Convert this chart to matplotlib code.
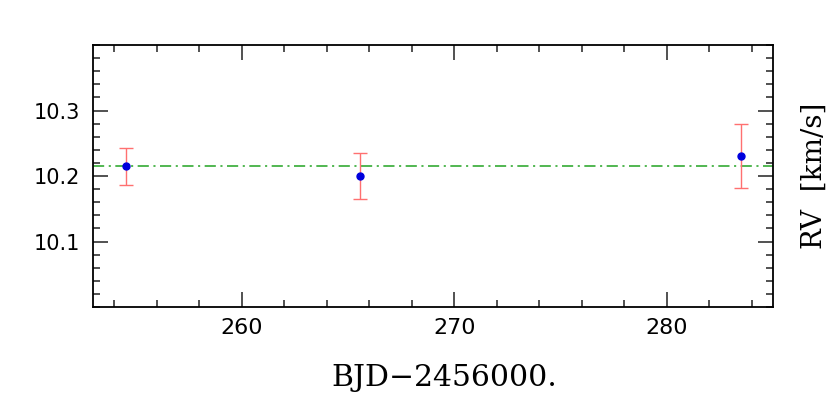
import matplotlib
matplotlib.use('Agg')
import matplotlib.pyplot as plt
from matplotlib.ticker import MultipleLocator

# RV measurements
bjd = [254.55, 265.55, 283.5]
rv = [10.215, 10.200, 10.231]
rv_err = [0.028, 0.035, 0.049]
rv_mean = 10.215

fig = plt.figure(figsize=(8.3, 4.11), dpi=100)
ax = fig.add_axes([93 / 830, 1 - 307 / 411, 680 / 830, 262 / 411])

ax.axhline(rv_mean, color='#33aa33', linestyle='-.', linewidth=1.2, dashes=(6.7, 2.75, 1.25, 2.7))
ax.errorbar(bjd, rv, yerr=rv_err, fmt='none', ecolor='#ff7070', elinewidth=1.0,
            capsize=5, capthick=1.0)
ax.plot(bjd, rv, 'o', color='#0000dd', markersize=5, zorder=5)

ax.set_xlim(253.0, 285.0)
ax.set_ylim(10.0, 10.4)
ax.xaxis.set_major_locator(MultipleLocator(10))
ax.xaxis.set_minor_locator(MultipleLocator(2))
ax.set_yticks([10.1, 10.2, 10.3])
ax.yaxis.set_minor_locator(MultipleLocator(0.02))

ax.tick_params(which='both', direction='in', top=True, right=True, width=1.2, color='#333333')
ax.tick_params(which='major', length=10.5, labelsize=15, pad=9)
ax.tick_params(axis='x', which='major', labelsize=16, pad=8)
ax.tick_params(which='minor', length=5)
for sp in ax.spines.values():
    sp.set_linewidth(1.3)

ax.set_xlabel('BJD\u22122456000.', family='DejaVu Serif', fontsize=21.5, labelpad=19)
ax.xaxis.label.set_x(0.517)
ax.yaxis.set_label_position('right')
ax.set_ylabel('RV  [km/s]', family='DejaVu Serif', fontsize=20, labelpad=20)

plt.savefig('out.png', dpi=100, facecolor='white')
